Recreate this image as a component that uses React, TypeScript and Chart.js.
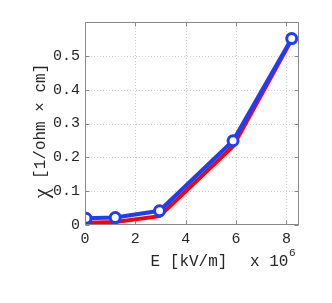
import React, { useEffect, useRef } from "react";
import { Chart, registerables } from "chart.js";

Chart.register(...registerables);

const fieldE = [0.04, 1.2, 2.96, 5.88, 8.21];
const blueChi = [0.02, 0.022, 0.042, 0.249, 0.551];
const redChi = [0.007, 0.009, 0.026, 0.233, 0.548];
const xTicks = [0, 2, 4, 6, 8];
const yTicks = [0, 0.1, 0.2, 0.3, 0.4, 0.5];
const xTitle = "E [kV/m]";
const xExp = "x 10";
const xExpSup = "6";
const yTitleSym = "χ";
const yTitle = " [1/ohm × cm]";

const MONO = "'Liberation Mono', 'DejaVu Sans Mono', monospace";

const framePlugin = {
  id: "frame",
  beforeDatasetsDraw(chart: any) {
    const { ctx, chartArea: a, scales } = chart;
    const xs = scales.x, ys = scales.y;
    ctx.save();
    ctx.strokeStyle = "#cfcfcf";
    ctx.lineWidth = 1;
    ctx.setLineDash([1, 2]);
    xTicks.forEach((t) => {
      const px = Math.round(xs.getPixelForValue(t)) + 0.5;
      if (px <= a.left + 1) return;
      ctx.beginPath();
      ctx.moveTo(px, a.top);
      ctx.lineTo(px, a.bottom);
      ctx.stroke();
    });
    yTicks.forEach((t) => {
      const py = Math.round(ys.getPixelForValue(t)) + 0.5;
      if (py >= a.bottom - 1) return;
      ctx.beginPath();
      ctx.moveTo(a.left, py);
      ctx.lineTo(a.right, py);
      ctx.stroke();
    });
    ctx.restore();
  },
  afterDatasetsDraw(chart: any) {
    const { ctx, chartArea: a, scales } = chart;
    const xs = scales.x, ys = scales.y;
    ctx.save();
    ctx.strokeStyle = "#888888";
    ctx.lineWidth = 1;
    ctx.setLineDash([]);
    const L = Math.round(a.left) + 0.5, R = Math.round(a.right) - 0.5;
    const T = Math.round(a.top) + 0.5, B = Math.round(a.bottom) - 0.5;
    ctx.strokeRect(L, T, R - L, B - T);
    const tl = 4;
    ctx.beginPath();
    xTicks.forEach((t) => {
      const px = Math.round(xs.getPixelForValue(t)) + 0.5;
      ctx.moveTo(px, B); ctx.lineTo(px, B - tl);
      ctx.moveTo(px, T); ctx.lineTo(px, T + tl);
    });
    yTicks.forEach((t) => {
      const py = Math.round(ys.getPixelForValue(t)) + 0.5;
      ctx.moveTo(L, py); ctx.lineTo(L + tl, py);
      ctx.moveTo(R, py); ctx.lineTo(R - tl, py);
    });
    ctx.stroke();

    ctx.fillStyle = "#262626";
    ctx.textBaseline = "middle";
    ctx.font = "16px " + MONO;
    ctx.textAlign = "center";
    ctx.fillText(xTitle, 189, 262);
    ctx.textAlign = "left";
    ctx.fillText(xExp, 250, 262);
    ctx.font = "11px " + MONO;
    ctx.fillText(xExpSup, 289, 253);

    ctx.translate(41, 131);
    ctx.rotate(-Math.PI / 2);
    ctx.font = "16px " + MONO;
    const w1 = ctx.measureText(yTitle).width;
    ctx.font = "22px 'Liberation Serif', serif";
    const w0 = ctx.measureText(yTitleSym).width;
    const start = -(w0 + w1) / 2;
    ctx.textAlign = "left";
    ctx.fillText(yTitleSym, start, 1);
    ctx.font = "16px " + MONO;
    ctx.fillText(yTitle, start + w0, 0);
    ctx.restore();
  },
};

export default function App() {
  const ref = useRef<HTMLCanvasElement>(null);
  useEffect(() => {
    document.body.style.margin = "0";
    const chart = new Chart(ref.current as HTMLCanvasElement, {
      type: "scatter",
      data: {
        datasets: [
          {
            data: fieldE.map((x, i) => ({ x, y: blueChi[i] })),
            showLine: true,
            borderColor: "rgb(30,60,255)",
            borderWidth: 4,
            pointRadius: 5,
            pointBorderWidth: 3,
            pointBackgroundColor: "#ffffff",
            pointBorderColor: "rgb(30,60,255)",
          },
          {
            data: fieldE.map((x, i) => ({ x, y: redChi[i] })),
            showLine: true,
            borderColor: "rgb(255,0,0)",
            borderWidth: 4,
            pointRadius: 0,
          },
        ],
      },
      options: {
        animation: false,
        responsive: false,
        layout: { padding: { top: 22, right: 33, left: 0, bottom: 0 } },
        plugins: { legend: { display: false }, tooltip: { enabled: false } },
        scales: {
          x: {
            type: "linear",
            min: 0,
            max: 8.5,
            afterFit: (s: any) => { s.height = 78; },
            afterBuildTicks: (s: any) => { s.ticks = xTicks.map((v) => ({ value: v })); },
            grid: { display: false, drawTicks: false },
            border: { display: false },
            ticks: { padding: 5, color: "#262626", font: { family: MONO, size: 15 } },
          },
          y: {
            type: "linear",
            min: 0,
            max: 0.6,
            afterFit: (s: any) => { s.width = 85; },
            afterBuildTicks: (s: any) => { s.ticks = yTicks.map((v) => ({ value: v })); },
            grid: { display: false, drawTicks: false },
            border: { display: false },
            ticks: {
              padding: 5,
              color: "#262626",
              font: { family: MONO, size: 15 },
              callback: (v: any) => (v === 0 ? "0" : Number(v).toFixed(1)),
            },
          },
        },
      },
      plugins: [framePlugin],
    });
    return () => chart.destroy();
  }, []);
  return (
    <div style={{ width: 332, height: 303 }}>
      <canvas ref={ref} width={332} height={303} style={{ width: 332, height: 303 }} />
    </div>
  );
}
